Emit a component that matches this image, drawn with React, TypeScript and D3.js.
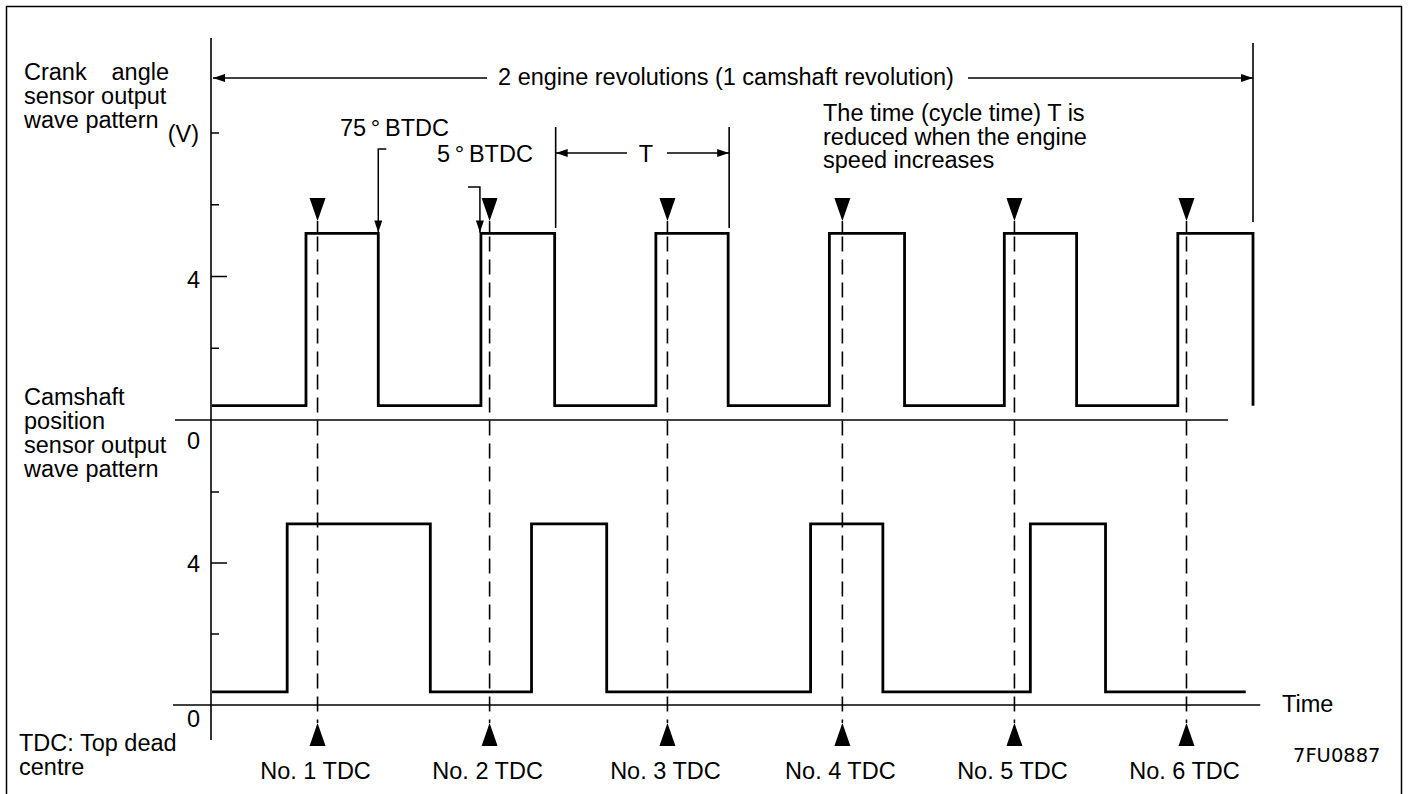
import React from 'react';
import * as d3 from 'd3';

// ---- data (crank angle in degrees, voltage in V) ----
const crankEdges = [65, 115, 186, 237, 307, 357, 427, 479, 548, 598, 668, 720];
const crankLow = 0.4;
const crankHigh = 5.2;
const camEdges = [52, 151, 221, 273, 414, 464, 566, 618];
const camEnd = 715;
const camLow = 0.37;
const camHigh = 5.1;
const tdcAngles = [73, 192, 315, 436, 555, 674];
const tdcLabels = ['No. 1 TDC', 'No. 2 TDC', 'No. 3 TDC', 'No. 4 TDC', 'No. 5 TDC', 'No. 6 TDC'];
const upperTicks = [2, 4, 6, 8];
const lowerTicks = [2, 4, 6];
const majorTick = 4;
const cycleStart = 237;
const cycleEnd = 357;
const revStart = 0;
const revEnd = 720;
const crankLabel = ['sensor output', 'wave pattern'];
const camLabel = ['Camshaft', 'position', 'sensor output', 'wave pattern'];
const noteLines = ['The time (cycle time) T is', 'reduced when the engine', 'speed increases'];

const W = 1408;
const H = 794;
const FONT = '"Liberation Sans", Arial, Helvetica, sans-serif';
const FS = 23.5;

function wavePoints(edges: number[], low: number, high: number, end?: number) {
  const pts: [number, number][] = [[0, low]];
  let lvl = low;
  edges.forEach((e) => {
    pts.push([e, lvl]);
    lvl = lvl === low ? high : low;
    pts.push([e, lvl]);
  });
  if (end !== undefined) pts.push([end, lvl]);
  return pts;
}

export default function App() {
  const x = d3.scaleLinear().domain([0, 720]).range([212, 1253]);
  const yU = d3.scaleLinear().domain([0, 8]).range([420, 133]);
  const yL = d3.scaleLinear().domain([0, 8]).range([705, 421]);

  const lineU = d3.line<[number, number]>().x((d) => x(d[0])).y((d) => yU(d[1]));
  const lineL = d3.line<[number, number]>().x((d) => x(d[0])).y((d) => yL(d[1]));

  const upperPath = lineU(wavePoints(crankEdges, crankLow, crankHigh)) || '';
  const lowerPath = lineL(wavePoints(camEdges, camLow, camHigh, camEnd)) || '';

  const axisX = x(0) - 1;
  const topTriBase = 198;
  const topTriTip = 221;
  const botTriTip = 723;
  const botTriBase = 746;
  const half = 8;

  const revY = 78;
  const tY = 153;
  const xs = (a: number) => x(a);

  return (
    <svg
      width={W}
      height={H}
      style={{ position: 'absolute', left: 0, top: 0, background: '#fff' }}
      fontFamily={FONT}
      fontSize={FS}
    >
      <defs>
        <marker id="arr" viewBox="0 0 12 8" refX="12" refY="4" markerWidth="12" markerHeight="8" markerUnits="userSpaceOnUse" orient="auto-start-reverse">
          <path d="M0,0 L12,4 L0,8 Z" fill="#000" />
        </marker>
      </defs>
      <rect x={0} y={0} width={W} height={H} fill="#fff" />
      {/* frame */}
      <path d={`M6.5,${H + 2} L6.5,6.5 L1401.5,6.5 L1401.5,${H + 2}`} fill="none" stroke="#000" strokeWidth={1.5} />

      {/* y axis */}
      <line x1={axisX} y1={38} x2={axisX} y2={740} stroke="#000" strokeWidth={1.6} />
      {/* zero lines */}
      <line x1={x(-25.6)} y1={yU(0)} x2={x(702.7)} y2={yU(0)} stroke="#000" strokeWidth={1.5} />
      <line x1={x(-27)} y1={yL(0)} x2={x(725)} y2={yL(0)} stroke="#000" strokeWidth={1.5} />

      {/* ticks */}
      {upperTicks.map((t) => (
        <line key={'u' + t} x1={axisX} x2={axisX + (t === majorTick ? 16 : 8)} y1={yU(t)} y2={yU(t)} stroke="#000" strokeWidth={1.5} />
      ))}
      {lowerTicks.map((t) => (
        <line key={'l' + t} x1={axisX} x2={axisX + (t === majorTick ? 16 : 8)} y1={yL(t)} y2={yL(t)} stroke="#000" strokeWidth={1.5} />
      ))}
      <text x={200} y={yU(4) + 11} textAnchor="end">4</text>
      <text x={200} y={yU(0) + 29} textAnchor="end">0</text>
      <text x={200} y={yL(4) + 9} textAnchor="end">4</text>
      <text x={200} y={yL(0) + 22} textAnchor="end">0</text>
      <text x={199} y={142} textAnchor="end">(V)</text>

      {/* waveforms */}
      <path d={upperPath} fill="none" stroke="#000" strokeWidth={2.8} strokeLinejoin="miter" />
      <path d={lowerPath} fill="none" stroke="#000" strokeWidth={2.8} strokeLinejoin="miter" />

      {/* TDC markers */}
      {tdcAngles.map((a, i) => {
        const cx = xs(a);
        return (
          <g key={'tdc' + i}>
            <path d={`M${cx - half},${topTriBase} L${cx + half},${topTriBase} L${cx},${topTriTip} Z`} fill="#000" />
            <line x1={cx} x2={cx} y1={topTriTip} y2={yU(crankHigh)} stroke="#000" strokeWidth={1.6} />
            <line x1={cx} x2={cx} y1={yU(crankHigh) + 3} y2={botTriTip} stroke="#000" strokeWidth={1.6} strokeDasharray="15,8" />
            <path d={`M${cx - half},${botTriBase} L${cx + half},${botTriBase} L${cx},${botTriTip} Z`} fill="#000" />
            <text x={cx - 2} y={779} textAnchor="middle">{tdcLabels[i]}</text>
          </g>
        );
      })}

      {/* 2 engine revolutions dimension */}
      <line x1={xs(revEnd)} x2={xs(revEnd)} y1={43} y2={222} stroke="#000" strokeWidth={1.6} />
      <line x1={487} x2={xs(revStart) + 1} y1={revY} y2={revY} stroke="#000" strokeWidth={1.6} markerEnd="url(#arr)" />
      <line x1={968} x2={xs(revEnd)} y1={revY} y2={revY} stroke="#000" strokeWidth={1.6} markerEnd="url(#arr)" />
      <text x={726} y={85} textAnchor="middle">2 engine revolutions (1 camshaft revolution)</text>

      {/* T dimension */}
      <line x1={xs(cycleStart) + 1} x2={xs(cycleStart) + 1} y1={127} y2={228} stroke="#000" strokeWidth={1.6} />
      <line x1={xs(cycleEnd) + 1} x2={xs(cycleEnd) + 1} y1={127} y2={228} stroke="#000" strokeWidth={1.6} />
      <line x1={627} x2={xs(cycleStart) + 1} y1={tY} y2={tY} stroke="#000" strokeWidth={1.6} markerEnd="url(#arr)" />
      <line x1={667} x2={xs(cycleEnd) + 1} y1={tY} y2={tY} stroke="#000" strokeWidth={1.6} markerEnd="url(#arr)" />
      <text x={646} y={162} textAnchor="middle">T</text>

      {/* BTDC annotations */}
      <text x={340} y={136}>75{'\u2009'}°{'\u2009'}BTDC</text>
      <path d={`M${xs(crankEdges[1]) + 8},149 L${xs(crankEdges[1])},149 L${xs(crankEdges[1])},${yU(crankHigh) - 1}`} fill="none" stroke="#000" strokeWidth={1.5} markerEnd="url(#arr)" />
      <text x={437} y={162}>5{'\u2009'}°{'\u2009'}BTDC</text>
      <path d={`M468,187 L${xs(crankEdges[2]) - 1},187 L${xs(crankEdges[2]) - 1},${yU(crankHigh) - 1}`} fill="none" stroke="#000" strokeWidth={1.5} markerEnd="url(#arr)" />

      {/* note */}
      {noteLines.map((l, i) => (
        <text key={'n' + i} x={823} y={121 + i * 23.5}>{l}</text>
      ))}

      {/* left labels */}
      <text x={24} y={80}>Crank</text>
      <text x={169} y={80} textAnchor="end">angle</text>
      {crankLabel.map((l, i) => (
        <text key={'c' + i} x={24} y={104 + i * 24}>{l}</text>
      ))}
      {camLabel.map((l, i) => (
        <text key={'m' + i} x={24} y={405 + i * 24}>{l}</text>
      ))}
      <text x={19} y={751}>TDC: Top dead</text>
      <text x={19} y={775}>centre</text>

      <text x={1282} y={712}>Time</text>
      <text x={1293} y={762} fontFamily='"DejaVu Sans", sans-serif' fontSize={19.5}>7FU0887</text>
    </svg>
  );
}
